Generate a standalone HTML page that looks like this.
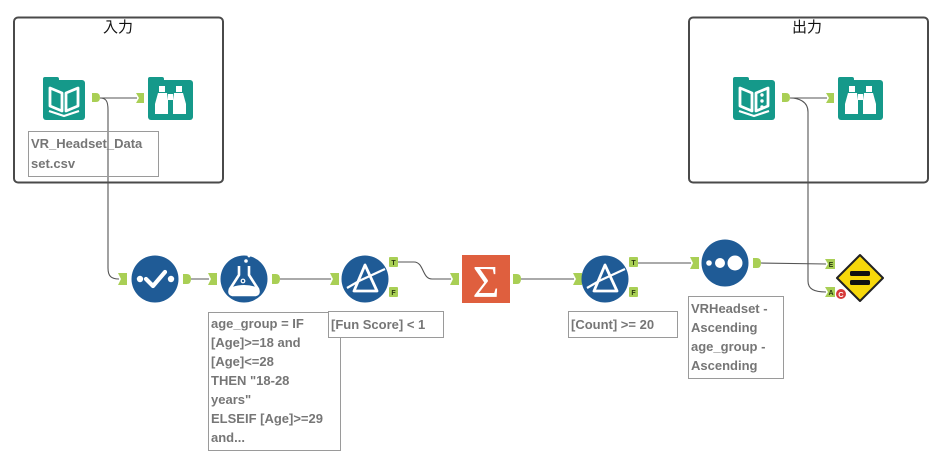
<!DOCTYPE html>
<html>
<head>
<meta charset="utf-8">
<style>
html,body{margin:0;padding:0;background:#fff;}
svg{display:block;}
.lbl{font-family:"Liberation Sans","Noto Sans CJK JP",sans-serif;font-size:13px;font-weight:bold;fill:#767676;}
.ttl{font-family:"Liberation Sans","Noto Sans CJK JP",sans-serif;font-size:15px;fill:#111;}
.anc{fill:#a9cf55;}
.con{stroke:#555;stroke-width:1.1;fill:none;}
.lt{font-family:"Liberation Sans",sans-serif;font-size:7px;font-weight:bold;fill:#2b3a10;}
</style>
</head>
<body>
<svg width="949" height="465" viewBox="0 0 949 465" xmlns="http://www.w3.org/2000/svg">
<!-- group boxes -->
<rect x="14" y="17.5" width="209" height="165" rx="4" fill="#fff" stroke="#4a4a4a" stroke-width="2"/>
<text class="ttl" x="118" y="32" text-anchor="middle">入力</text>
<rect x="689" y="17.5" width="239" height="165" rx="4" fill="#fff" stroke="#4a4a4a" stroke-width="2"/>
<text class="ttl" x="807" y="32" text-anchor="middle">出力</text>

<!-- connectors -->
<path class="con" d="M100,98 L137,98"/>
<path class="con" d="M100,98 C106,98 108,101 108,110 L108,268 C108,276 111,279 119,279"/>
<path class="con" d="M191,279 L209,279"/>
<path class="con" d="M280,279 L331,279"/>
<path class="con" d="M398,262 L414,262 C424,262 422,279 432,279 L451,279"/>
<path class="con" d="M521,279 L574,279"/>
<path class="con" d="M638,263 L691,263"/>
<path class="con" d="M761,263 L826,264"/>
<path class="con" d="M790,98 L827,98"/>
<path class="con" d="M790,98 C798,98 808,101 808,112 L808,281 C808,289 814,292 826,292"/>

<!-- Input data 1 (book) -->
<g>
<rect x="43" y="77" width="16" height="8" rx="2" fill="#15998a"/>
<rect x="43" y="80" width="42" height="40" rx="3" fill="#15998a"/>
<path d="M50,88 L62,93 L62,111 L50,106 Z" fill="none" stroke="#fff" stroke-width="2.8" stroke-linejoin="round"/>
<path d="M78,88 L66,93 L66,111 L78,106 Z" fill="none" stroke="#fff" stroke-width="2.8" stroke-linejoin="round"/>
<path d="M49,111 L64,116 L79,111" fill="none" stroke="#fff" stroke-width="2.2"/>
</g>
<path class="anc" d="M92,93 L96,93 Q100,93 100,97.5 Q100,102 96,102 L92,102 Z"/>
<!-- Browse 1 -->
<path class="anc" d="M136,93 L144,93 L144,103 L136,103 L139,98 Z"/>
<g>
<rect x="148" y="77" width="16" height="8" rx="2" fill="#15998a"/>
<rect x="148" y="80" width="45" height="40" rx="3" fill="#15998a"/>
<path d="M159,86 L165,86 L165,92 L159,92 Z" fill="#fff"/>
<path d="M176,86 L182,86 L182,92 L176,92 Z" fill="#fff"/>
<path d="M158,93 L167,93 L168,100 L168,114 L155,114 L155,104 Z" fill="#fff"/>
<path d="M174,93 L183,93 L186,104 L186,114 L173,114 L173,100 Z" fill="#fff"/>
<rect x="168" y="94" width="5" height="6" fill="#fff"/>
<rect x="169" y="106" width="3" height="8" fill="#15998a"/>
</g>

<!-- Input label -->
<rect x="28.5" y="131.5" width="130" height="45" fill="none" stroke="#9a9a9a" stroke-width="1"/>
<text class="lbl" x="31" y="148">VR_Headset_Data</text>
<text class="lbl" x="31" y="168">set.csv</text>

<!-- Output group: book with dots -->
<g>
<rect x="733" y="77" width="16" height="8" rx="2" fill="#15998a"/>
<rect x="733" y="80" width="42" height="40" rx="3" fill="#15998a"/>
<path d="M740,88 L752,93 L752,111 L740,106 Z" fill="none" stroke="#fff" stroke-width="2.8" stroke-linejoin="round"/>
<path d="M768,88 L756,93 L756,111 L768,106 Z" fill="none" stroke="#fff" stroke-width="2.8" stroke-linejoin="round"/>
<circle cx="762" cy="95" r="1.7" fill="#fff"/>
<circle cx="762" cy="101" r="1.7" fill="#fff"/>
<circle cx="762" cy="107" r="1.7" fill="#fff"/>
<path d="M739,111 L754,116 L769,111" fill="none" stroke="#fff" stroke-width="2.2"/>
</g>
<path class="anc" d="M782,93 L786,93 Q790,93 790,97.5 Q790,102 786,102 L782,102 Z"/>
<path class="anc" d="M826,93 L834,93 L834,103 L826,103 L829,98 Z"/>
<g>
<rect x="838" y="77" width="16" height="8" rx="2" fill="#15998a"/>
<rect x="838" y="80" width="45" height="40" rx="3" fill="#15998a"/>
<path d="M849,86 L855,86 L855,92 L849,92 Z" fill="#fff"/>
<path d="M866,86 L872,86 L872,92 L866,92 Z" fill="#fff"/>
<path d="M848,93 L857,93 L858,100 L858,114 L845,114 L845,104 Z" fill="#fff"/>
<path d="M864,93 L873,93 L876,104 L876,114 L863,114 L863,100 Z" fill="#fff"/>
<rect x="858" y="94" width="5" height="6" fill="#fff"/>
<rect x="859" y="106" width="3" height="8" fill="#15998a"/>
</g>

<!-- Select (check) -->
<path class="anc" d="M118,273 L127,273 L127,285 L118,285 L121,279 Z"/>
<circle cx="155" cy="279" r="23.5" fill="#1f5b96"/>
<circle cx="140" cy="279" r="3.2" fill="#fff"/>
<path d="M146,279 L153,286 L165,272" fill="none" stroke="#fff" stroke-width="4.2" stroke-linecap="round" stroke-linejoin="round"/>
<circle cx="171" cy="279" r="3.2" fill="#fff"/>
<path class="anc" d="M183,274 L187,274 Q191,274 191,279 Q191,284 187,284 L183,284 Z"/>

<!-- Formula -->
<path class="anc" d="M208,273 L217,273 L217,285 L208,285 L211,279 Z"/>
<circle cx="244" cy="279" r="23.5" fill="#1f5b96"/>
<path d="M239,266 L239,275 L230,289 Q228,295 234,295 L254,295 Q260,295 258,289 L249,275 L249,266" fill="none" stroke="#fff" stroke-width="2.6" stroke-linejoin="round"/>
<path d="M232,287 Q244,283 256,287 L258,291 Q257,294 254,294 L234,294 Q231,294 230,291 Z" fill="#fff"/>
<circle cx="246" cy="261" r="1.8" fill="#fff"/>
<circle cx="249" cy="256" r="1.4" fill="#fff"/>
<circle cx="243" cy="281" r="1.8" fill="none" stroke="#fff" stroke-width="1.2"/>
<path class="anc" d="M272,274 L276,274 Q280,274 280,279 Q280,284 276,284 L272,284 Z"/>

<!-- Formula label -->
<rect x="208.5" y="312.5" width="132" height="138" fill="#fff" stroke="#9a9a9a" stroke-width="1"/>
<text class="lbl" x="211" y="328">age_group = IF</text>
<text class="lbl" x="211" y="347">[Age]&gt;=18 and</text>
<text class="lbl" x="211" y="366">[Age]&lt;=28</text>
<text class="lbl" x="211" y="385">THEN "18-28</text>
<text class="lbl" x="211" y="404">years"</text>
<text class="lbl" x="211" y="423">ELSEIF [Age]&gt;=29</text>
<text class="lbl" x="211" y="442">and...</text>

<!-- Filter 1 -->
<path class="anc" d="M330,273 L339,273 L339,285 L330,285 L333,279 Z"/>
<circle cx="365" cy="279" r="23.5" fill="#1f5b96"/>
<path d="M365,265 L354,291 L377,291 Z" fill="none" stroke="#fff" stroke-width="2.8" stroke-linejoin="round"/>
<path d="M347,288 L359,281 L385,269" fill="none" stroke="#fff" stroke-width="2.2"/>
<rect x="389" y="257" width="9" height="10" rx="1" class="anc"/>
<text class="lt" x="393.5" y="265" text-anchor="middle">T</text>
<rect x="389" y="287" width="9" height="10" rx="1" class="anc"/>
<text class="lt" x="393.5" y="295" text-anchor="middle">F</text>
<rect x="328.5" y="311.5" width="115" height="26" fill="#fff" stroke="#9a9a9a" stroke-width="1"/>
<text class="lbl" x="331" y="329">[Fun Score] &lt; 1</text>

<!-- Summarize -->
<path class="anc" d="M450,273 L459,273 L459,285 L450,285 L453,279 Z"/>
<rect x="462" y="255" width="48" height="48" fill="#df5f3e"/>
<text x="486" y="297" text-anchor="middle" font-family="Liberation Serif,serif" font-size="46" fill="#fff">Σ</text>
<path class="anc" d="M513,274 L517,274 Q521,274 521,279 Q521,284 517,284 L513,284 Z"/>

<!-- Filter 2 -->
<path class="anc" d="M573,273 L582,273 L582,285 L573,285 L576,279 Z"/>
<circle cx="605" cy="279" r="23.5" fill="#1f5b96"/>
<path d="M605,265 L594,291 L617,291 Z" fill="none" stroke="#fff" stroke-width="2.8" stroke-linejoin="round"/>
<path d="M587,288 L599,281 L625,269" fill="none" stroke="#fff" stroke-width="2.2"/>
<rect x="629" y="257" width="9" height="10" rx="1" class="anc"/>
<text class="lt" x="633.5" y="265" text-anchor="middle">T</text>
<rect x="629" y="287" width="9" height="10" rx="1" class="anc"/>
<text class="lt" x="633.5" y="295" text-anchor="middle">F</text>
<rect x="568.5" y="311.5" width="109" height="26" fill="#fff" stroke="#9a9a9a" stroke-width="1"/>
<text class="lbl" x="571" y="329">[Count] &gt;= 20</text>

<!-- Sort -->
<path class="anc" d="M690,257 L699,257 L699,269 L690,269 L693,263 Z"/>
<circle cx="725" cy="263" r="23.5" fill="#1f5b96"/>
<circle cx="709" cy="263" r="2.8" fill="#fff"/>
<circle cx="720" cy="263" r="5" fill="#fff"/>
<circle cx="735" cy="263" r="7.5" fill="#fff"/>
<path class="anc" d="M753,258 L757,258 Q761,258 761,263 Q761,268 757,268 L753,268 Z"/>
<rect x="688.5" y="296.5" width="95" height="82" fill="#fff" stroke="#9a9a9a" stroke-width="1"/>
<text class="lbl" x="691" y="313">VRHeadset -</text>
<text class="lbl" x="691" y="332">Ascending</text>
<text class="lbl" x="691" y="351">age_group -</text>
<text class="lbl" x="691" y="370">Ascending</text>

<!-- Test tool -->
<path class="anc" d="M825,259 L835,259 L835,269 L825,269 L828,264 Z"/>
<text class="lt" x="831" y="267" text-anchor="middle">E</text>
<path class="anc" d="M825,287 L835,287 L835,297 L825,297 L828,292 Z"/>
<text class="lt" x="831" y="295" text-anchor="middle">A</text>
<path d="M860,255 L883,278 L860,301 L837,278 Z" fill="#f7d80a" stroke="#222" stroke-width="2" stroke-linejoin="round"/>
<rect x="850" y="271" width="20" height="5" rx="1.5" fill="#111"/>
<rect x="850" y="280" width="20" height="5" rx="1.5" fill="#111"/>
<circle cx="841" cy="294" r="5" fill="#d63a3a"/>
<text x="841" y="297" text-anchor="middle" font-family="Liberation Sans,sans-serif" font-size="7.5" font-weight="bold" fill="#fff">C</text>
</svg>
</body>
</html>
